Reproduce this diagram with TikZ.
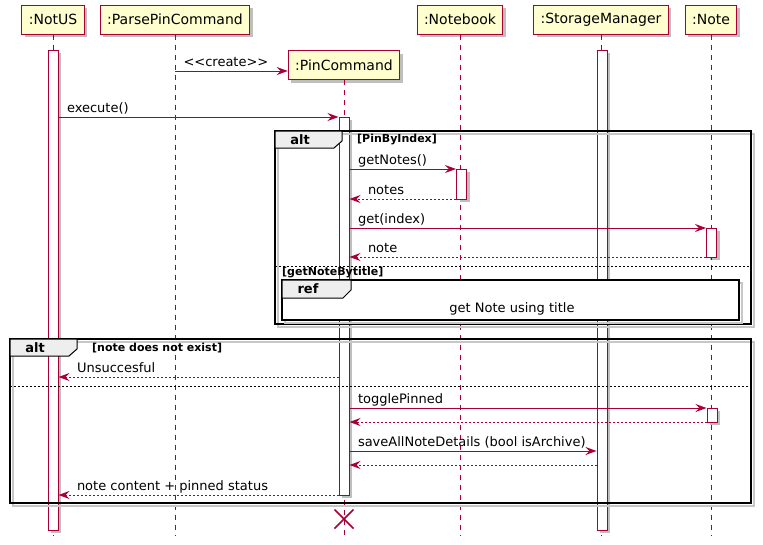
\documentclass[tikz,border=0pt]{standalone}
\usepackage{fontspec}
\setmainfont{DejaVu Sans}
\usepackage{xcolor}
\usepackage{tikz}
\usetikzlibrary{arrows.meta}
\usetikzlibrary{shadows}

\definecolor{umlred}{HTML}{A80036}
\definecolor{umlyellow}{HTML}{FEFECE}
\definecolor{umltab}{HTML}{EEEEEE}

\tikzset{
	umlshadow/.style={drop shadow={shadow xshift=3pt, shadow yshift=-3pt, opacity=0.25, fill=black}},
	part/.style={draw=umlred, fill=umlyellow, line width=1pt, minimum height=29pt, inner xsep=7pt, font=\fontsize{14}{16}\selectfont, umlshadow},
	life/.style={draw=umlred, line width=1pt, dash pattern=on 5pt off 5pt},
	actbar/.style={draw=umlred, fill=white, line width=1pt, minimum width=10pt, inner sep=0pt, umlshadow},
	msg/.style={draw=umlred, line width=1pt, -{Stealth[length=11pt, width=8pt, inset=4pt]}},
	ret/.style={msg, dash pattern=on 2pt off 2pt},
	lblout/.style={pos=0, anchor=base west, xshift=8pt, yshift=5pt, inner sep=0pt, font=\fontsize{13}{15}\selectfont, text=black},
	lblback/.style={pos=1, anchor=base west, xshift=18pt, yshift=5pt, inner sep=0pt, font=\fontsize{13}{15}\selectfont, text=black},
	frame/.style={draw=black, line width=1.8pt, preaction={draw=black!22, line width=2.5pt, transform canvas={xshift=3pt, yshift=-3pt}}},
	tabtxt/.style={font=\bfseries\fontsize{13}{15}\selectfont, inner sep=0pt},
	guard/.style={font=\bfseries\fontsize{11}{13}\selectfont, inner sep=0pt, anchor=west},
	sep/.style={draw=black, line width=0.8pt, dash pattern=on 2pt off 2pt}
}

\begin{document}
\begin{tikzpicture}[x=1pt, y=-1pt]
	\useasboundingbox (0,0) rectangle (763,544);

	% y levels of the messages
	\foreach \n/\y in {create/71, exec/117, getnotes/169, notes/199, getidx/228, note/257,
		unsucc/377, toggle/408, toggleback/422, save/451, saveback/465, result/495, bottom/535}{
		\coordinate (y\n) at (0,\y);
	}

	% participants
	\node[part] (notus) at (53,19.5) {:NotUS};
	\node[part] (parse) at (175,19.5) {:ParsePinCommand};
	\node[part] (pincmd) at (344,65) {:PinCommand};
	\node[part] (notebook) at (460,19.5) {:Notebook};
	\node[part] (storage) at (601,19.5) {:StorageManager};
	\node[part] (note) at (711,19.5) {:Note};

	\foreach \p in {notus, parse, pincmd, notebook, storage, note}{
		\draw[life] (\p.south) -- (\p.south |- ybottom);
	}

	% activations
	\node[actbar, minimum height=480pt] (actNotus) at (53,290) {};
	\node[actbar, minimum height=378pt] (actPin) at (344,306) {};
	\node[actbar, minimum height=480pt] (actStore) at (602,290) {};
	\node[actbar, minimum height=30pt] (actBook) at (461.5,184) {};
	\node[actbar, minimum height=29pt] (actNote) at (711.5,242.5) {};
	\node[actbar, minimum height=14pt] (actNoteB) at (712,415) {};

	% first alt
	\draw[frame] (275,131) rectangle (751,324);
	\filldraw[fill=umltab, draw=black, line width=1pt] (275,131) -- (342,131) -- (342,141) -- (334,148) -- (275,148) -- cycle;
	\node[tabtxt] (alta) at (300,140) {alt};
	\node[guard] (guarda) at (357,140) {[PinByIndex]};
	\draw[sep] (275,266) -- (751,266);
	\node[guard] (guardb) at (282,273) {[getNoteBytitle]};

	% ref
	\draw[frame, fill=white] (282,280) rectangle (739,320);
	\filldraw[fill=umltab, draw=black, line width=1pt] (282,280) -- (351,280) -- (351,290) -- (343,298) -- (282,298) -- cycle;
	\node[tabtxt] (reftab) at (308,289) {ref};
	\node[font=\fontsize{13}{15}\selectfont, inner sep=0pt] (reftxt) at (512,309) {get Note using title};

	% second alt
	\draw[frame] (10,339) rectangle (751,503);
	\filldraw[fill=umltab, draw=black, line width=1pt] (10,339) -- (77,339) -- (77,349) -- (69,356) -- (10,356) -- cycle;
	\node[tabtxt] (altb) at (35,348) {alt};
	\node[guard] (guardc) at (92,348) {[note does not exist]};
	\draw[sep] (10,386) -- (751,386);

	% messages
	\draw[msg] (parse.south |- ycreate) -- (pincmd.west |- ycreate) node[lblout] {<{}<create>{}>};
	\draw[msg] (actNotus.east |- yexec) -- (actPin.west |- yexec) node[lblout] {execute()};
	\draw[msg] (actPin.east |- ygetnotes) -- (actBook.west |- ygetnotes) node[lblout] {getNotes()};
	\draw[ret] (actBook.west |- ynotes) -- (actPin.east |- ynotes) node[lblback] {notes};
	\draw[msg] (actPin.east |- ygetidx) -- (actNote.west |- ygetidx) node[lblout] {get(index)};
	\draw[ret] (actNote.west |- ynote) -- (actPin.east |- ynote) node[lblback] {note};
	\draw[ret] (actPin.west |- yunsucc) -- (actNotus.east |- yunsucc) node[lblback] {Unsuccesful};
	\draw[msg] (actPin.east |- ytoggle) -- (actNoteB.west |- ytoggle) node[lblout] {togglePinned};
	\draw[ret] (actNoteB.west |- ytoggleback) -- (actPin.east |- ytoggleback);
	\draw[msg] (actPin.east |- ysave) -- (actStore.west |- ysave) node[lblout] {saveAllNoteDetails (bool isArchive)};
	\draw[ret] (actStore.west |- ysaveback) -- (actPin.east |- ysaveback);
	\draw[ret] (actPin.west |- yresult) -- (actNotus.east |- yresult) node[lblback] {note content + pinned status};

	% destroy
	\coordinate (kill) at (344,519);
	\draw[umlred, line width=1.5pt] ([shift={(-9.5,-9.5)}]kill) -- ([shift={(9.5,9.5)}]kill)
		([shift={(-9.5,9.5)}]kill) -- ([shift={(9.5,-9.5)}]kill);
\end{tikzpicture}
\end{document}
